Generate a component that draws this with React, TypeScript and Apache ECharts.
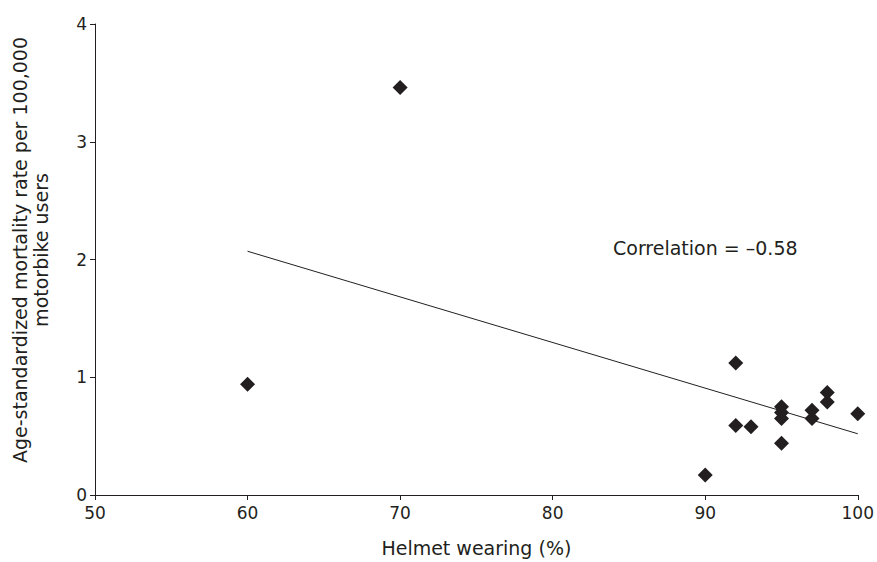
import React, { useEffect, useRef } from "react";
import * as echarts from "echarts";

const helmetWearing = [60, 70, 90, 92, 92, 93, 95, 95, 95, 95, 97, 97, 98, 98, 100];
const mortalityRate = [0.94, 3.46, 0.17, 1.12, 0.59, 0.58, 0.75, 0.70, 0.65, 0.44, 0.72, 0.65, 0.87, 0.79, 0.69];
const trendX = [60, 100];
const trendY = [2.07, 0.52];
const xTicks = [50, 60, 70, 80, 90, 100];
const yTicks = [0, 1, 2, 3, 4];
const correlationLabel = "Correlation = \u20130.58";
const xTitle = "Helmet wearing (%)";
const yTitle = "Age-standardized mortality rate per 100,000\nmotorbike users";

export default function App() {
  const ref = useRef<HTMLDivElement>(null);
  useEffect(() => {
    if (!ref.current) return;
    const chart = echarts.init(ref.current, undefined, { renderer: "svg" });
    const font = "'DejaVu Sans', 'Liberation Sans', Arial, sans-serif";
    const ink = "#231f20";
    chart.setOption({
      animation: false,
      backgroundColor: "#ffffff",
      textStyle: { fontFamily: font },
      grid: { left: 95, right: 18, top: 24, bottom: 67, containLabel: false },
      xAxis: {
        type: "value",
        min: xTicks[0],
        max: xTicks[xTicks.length - 1],
        interval: 10,
        name: xTitle,
        nameLocation: "middle",
        nameGap: 43,
        nameTextStyle: { fontSize: 19, color: ink, fontFamily: font },
        axisLine: { onZero: false, lineStyle: { color: ink, width: 1 } },
        axisTick: { show: true, length: 5, lineStyle: { color: ink } },
        axisLabel: { fontSize: 17, color: ink, margin: 9, fontFamily: font },
        splitLine: { show: false },
      },
      yAxis: {
        type: "value",
        min: yTicks[0],
        max: yTicks[yTicks.length - 1],
        interval: 1,
        axisLine: { show: true, onZero: false, lineStyle: { color: ink, width: 1 } },
        axisTick: { show: true, length: 5, lineStyle: { color: ink } },
        axisLabel: { fontSize: 17, color: ink, margin: 8, fontFamily: font },
        splitLine: { show: false },
      },
      graphic: [
        {
          type: "text",
          x: 30,
          y: 250,
          rotation: Math.PI / 2,
          style: {
            text: yTitle,
            fontSize: 19,
            lineHeight: 21,
            fill: ink,
            fontFamily: font,
            align: "center",
            verticalAlign: "middle",
          },
        },
        {
          type: "text",
          x: 613,
          y: 248,
          style: {
            text: correlationLabel,
            fontSize: 19,
            fill: ink,
            fontFamily: font,
            align: "left",
            verticalAlign: "middle",
          },
        },
      ],
      series: [
        {
          type: "line",
          data: trendX.map((x, i) => [x, trendY[i]]),
          symbol: "none",
          lineStyle: { color: ink, width: 1 },
          z: 2,
        },
        {
          type: "scatter",
          data: helmetWearing.map((x, i) => [x, mortalityRate[i]]),
          symbol: "diamond",
          symbolSize: [15, 15],
          itemStyle: { color: ink, opacity: 1 },
          z: 3,
        },
      ],
    });
    return () => chart.dispose();
  }, []);
  return <div ref={ref} style={{ width: 877, height: 562, position: "absolute", left: 0, top: 0 }} />;
}
